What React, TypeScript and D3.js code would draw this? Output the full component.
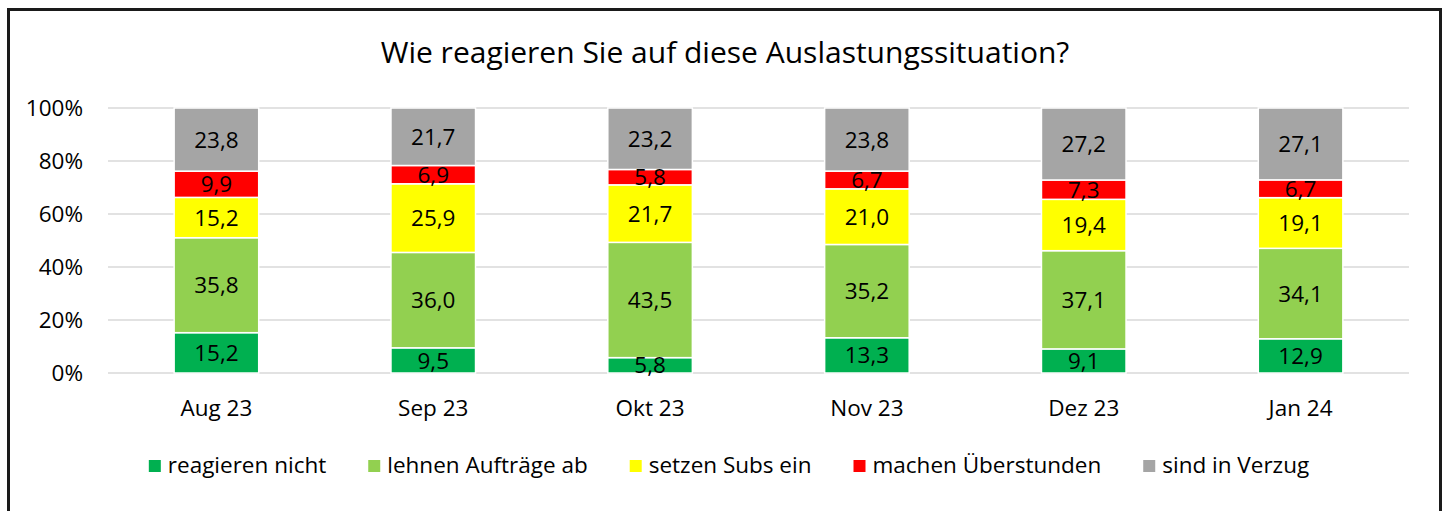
import * as d3 from "d3";
import { useEffect, useRef } from "react";

const categories = ["Aug 23", "Sep 23", "Okt 23", "Nov 23", "Dez 23", "Jan 24"];
const seriesNames = ["reagieren nicht", "lehnen Aufträge ab", "setzen Subs ein", "machen Überstunden", "sind in Verzug"];
const reagierenNicht = [15.2, 9.5, 5.8, 13.3, 9.1, 12.9];
const lehnenAb = [35.8, 36.0, 43.5, 35.2, 37.1, 34.1];
const setzenSubs = [15.2, 25.9, 21.7, 21.0, 19.4, 19.1];
const ueberstunden = [9.9, 6.9, 5.8, 6.7, 7.3, 6.7];
const verzug = [23.8, 21.7, 23.2, 23.8, 27.2, 27.1];
const yTicks = [0, 0.2, 0.4, 0.6, 0.8, 1];
const colors = ["#00B050", "#92D050", "#FFFF00", "#FF0000", "#A5A5A5"];

const FONT = "'Open Sans', sans-serif";

const App = () => {
  const ref = useRef(null);

  useEffect(() => {
    const width = 1446;
    const height = 511;
    const plot = { left: 108, right: 1409, top: 108, bottom: 373 };

    d3.select(ref.current).select("svg").remove();

    const svg = d3.select(ref.current)
      .append("svg")
      .attr("width", width)
      .attr("height", height)
      .style("display", "block")
      .style("font-family", FONT);

    svg.append("rect")
      .attr("width", width)
      .attr("height", height)
      .attr("fill", "#fff");

    // frame, bottom edge runs off the picture
    svg.append("rect")
      .attr("x", 8.5)
      .attr("y", 9.5)
      .attr("width", 1432)
      .attr("height", 540)
      .attr("fill", "none")
      .attr("stroke", "#1a1a1a")
      .attr("stroke-width", 3);

    svg.append("text")
      .attr("x", 725)
      .attr("y", 63)
      .attr("text-anchor", "middle")
      .attr("font-size", "30px")
      .attr("fill", "#000")
      .text("Wie reagieren Sie auf diese Auslastungssituation?");

    const table = categories.map((c, i) => ({
      cat: c,
      s0: reagierenNicht[i],
      s1: lehnenAb[i],
      s2: setzenSubs[i],
      s3: ueberstunden[i],
      s4: verzug[i],
    }));
    const keys = ["s0", "s1", "s2", "s3", "s4"];
    const stacked = d3.stack().keys(keys).offset(d3.stackOffsetExpand)(table as any);

    const x = d3.scaleBand()
      .domain(categories)
      .range([plot.left, plot.right])
      .paddingInner(0.61)
      .paddingOuter(0.305);

    const y = d3.scaleLinear()
      .domain([0, 1])
      .range([plot.bottom, plot.top]);

    svg.append("g")
      .selectAll("line")
      .data(yTicks)
      .enter()
      .append("line")
      .attr("x1", plot.left)
      .attr("x2", plot.right)
      .attr("y1", (d) => y(d))
      .attr("y2", (d) => y(d))
      .attr("stroke", "#D9D9D9")
      .attr("stroke-width", 1.5);

    svg.append("g")
      .selectAll("text")
      .data(yTicks)
      .enter()
      .append("text")
      .attr("x", 83)
      .attr("y", (d) => y(d))
      .attr("dy", "0.36em")
      .attr("text-anchor", "end")
      .attr("font-size", "22.5px")
      .text((d) => d3.format(".0%")(d));

    svg.append("g")
      .selectAll("text")
      .data(categories)
      .enter()
      .append("text")
      .attr("x", (d) => (x(d) as number) + x.bandwidth() / 2)
      .attr("y", 416)
      .attr("text-anchor", "middle")
      .attr("font-size", "22.5px")
      .text((d) => d);

    stacked.forEach((layer, si) => {
      const g = svg.append("g");
      g.selectAll("rect")
        .data(layer)
        .enter()
        .append("rect")
        .attr("x", (d: any) => x(d.data.cat) as number)
        .attr("y", (d) => y(d[1]))
        .attr("width", x.bandwidth())
        .attr("height", (d) => y(d[0]) - y(d[1]))
        .attr("fill", colors[si])
        .attr("stroke", "#fff")
        .attr("stroke-width", 1.5);
    });

    stacked.forEach((layer) => {
      svg.append("g")
        .selectAll("text")
        .data(layer)
        .enter()
        .append("text")
        .attr("x", (d: any) => (x(d.data.cat) as number) + x.bandwidth() / 2)
        .attr("y", (d) => (y(d[0]) + y(d[1])) / 2)
        .attr("dy", "0.36em")
        .attr("text-anchor", "middle")
        .attr("font-size", "22.5px")
        .attr("fill", "#000")
        .text((d: any) => d3.format(".1f")(d.data[layer.key]).replace(".", ","));
    });

    // legend, centred under the plot
    const legend = svg.append("g");
    const items = seriesNames.map((name, i) => {
      const item = legend.append("g");
      item.append("rect")
        .attr("y", 460)
        .attr("width", 12)
        .attr("height", 12)
        .attr("fill", colors[i]);
      const t = item.append("text")
        .attr("x", 19)
        .attr("y", 473)
        .attr("font-size", "22.5px")
        .text(name);
      const w = 19 + (t.node() as SVGTextElement).getComputedTextLength();
      return { item, w };
    });
    const gap = 42;
    const total = d3.sum(items, (d) => d.w) + gap * (items.length - 1);
    let cx = 729 - total / 2;
    items.forEach((it) => {
      it.item.attr("transform", `translate(${cx},0)`);
      cx += it.w + gap;
    });
  }, [ref]);

  return (
    <div ref={ref} style={{ position: "absolute", left: 0, top: 0 }}></div>
  );
};

export default App;
